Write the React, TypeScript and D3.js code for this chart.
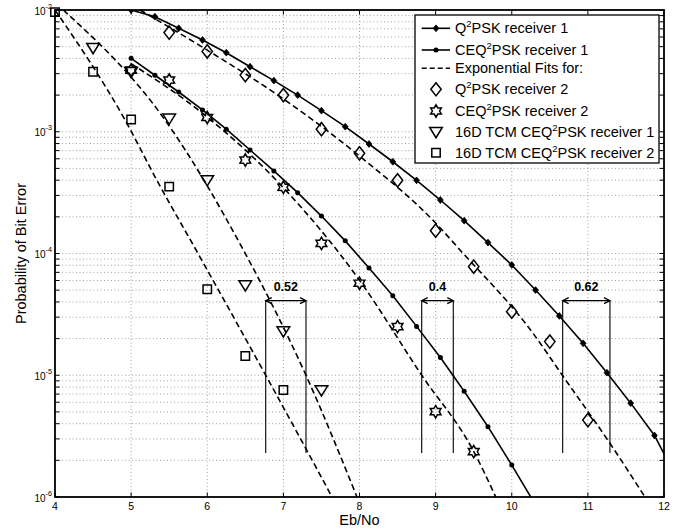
import React from "react";
import * as d3 from "d3";

// ---------------- DATA ----------------
// Q2PSK receiver 1 (solid line with small markers)
const EBNO_Q2PSK_R1 = [5.0, 5.3125, 5.625, 5.9375, 6.25, 6.5625, 6.875, 7.1875, 7.5, 7.8125, 8.125, 8.4375, 8.75, 9.0625, 9.375, 9.6875, 10.0, 10.3125, 10.625, 10.9375, 11.25, 11.5625, 11.875, 12.1875];
const BER_Q2PSK_R1 = [1.0e-2, 8.81e-3, 7.08e-3, 5.67e-3, 4.46e-3, 3.42e-3, 2.63e-3, 2.0e-3, 1.49e-3, 1.1e-3, 7.93e-4, 5.67e-4, 3.99e-4, 2.75e-4, 1.86e-4, 1.23e-4, 8.05e-5, 5.01e-5, 3.07e-5, 1.83e-5, 1.05e-5, 5.9e-6, 3.2e-6, 1.35e-6];

// CEQ2PSK receiver 1 (solid line with dots)
const EBNO_CEQ2PSK_R1 = [5.0, 5.3125, 5.625, 5.9375, 6.25, 6.5625, 6.875, 7.1875, 7.5, 7.8125, 8.125, 8.4375, 8.75, 9.0625, 9.375, 9.6875, 10.0, 10.3125];
const BER_CEQ2PSK_R1 = [4.01e-3, 2.91e-3, 2.12e-3, 1.51e-3, 1.05e-3, 7.08e-4, 4.77e-4, 3.16e-4, 2.03e-4, 1.27e-4, 7.6e-5, 4.5e-5, 2.52e-5, 1.4e-5, 7.38e-6, 3.78e-6, 1.83e-6, 8.6e-7];

// Q2PSK receiver 2 (diamonds)
const EBNO_Q2PSK_R2 = [5.5, 6.0, 6.5, 7.0, 7.5, 8.0, 8.5, 9.0, 9.5, 10.0, 10.5, 11.0];
const BER_Q2PSK_R2 = [6.52e-3, 4.57e-3, 2.92e-3, 2.0e-3, 1.05e-3, 6.65e-4, 3.99e-4, 1.54e-4, 7.8e-5, 3.33e-5, 1.89e-5, 4.28e-6];

// CEQ2PSK receiver 2 (hexagrams)
const EBNO_CEQ2PSK_R2 = [5.0, 5.5, 6.0, 6.5, 7.0, 7.5, 8.0, 8.5, 9.0, 9.5];
const BER_CEQ2PSK_R2 = [3.21e-3, 2.66e-3, 1.31e-3, 5.86e-4, 3.5e-4, 1.21e-4, 5.7e-5, 2.51e-5, 5.02e-6, 2.36e-6];

// 16D TCM CEQ2PSK receiver 1 (down triangles)
const EBNO_TCM_R1 = [4.5, 5.0, 5.5, 6.0, 6.5, 7.0, 7.5];
const BER_TCM_R1 = [4.9e-3, 3.11e-3, 1.29e-3, 4.02e-4, 5.51e-5, 2.31e-5, 7.57e-6];

// 16D TCM CEQ2PSK receiver 2 (squares)
const EBNO_TCM_R2 = [4.0, 4.5, 5.0, 5.5, 6.0, 6.5, 7.0];
const BER_TCM_R2 = [9.6e-3, 3.11e-3, 1.26e-3, 3.54e-4, 5.08e-5, 1.44e-5, 7.57e-6];

// Exponential fits (dashed)
const FIT_Q2PSK_R2_X = [5.117, 6.0, 7.0, 8.0, 9.0, 9.32, 10.28, 10.669, 11.29, 11.75];
const FIT_Q2PSK_R2_Y = [1.0e-2, 4.68e-3, 1.86e-3, 6.31e-4, 1.78e-4, 1.07e-4, 2.21e-5, 9.9e-6, 2.76e-6, 1.0e-6];
const FIT_CEQ2PSK_R2_X = [5.0, 6.0, 7.0, 8.0, 8.817, 9.495, 9.79];
const FIT_CEQ2PSK_R2_Y = [3.63e-3, 1.32e-3, 3.47e-4, 6.03e-5, 1.0e-5, 2.4e-6, 1.0e-6];
const FIT_TCM_R1_X = [4.109, 5.445, 6.474, 7.297, 7.967];
const FIT_TCM_R1_Y = [1.0e-2, 1.25e-3, 1.07e-4, 1.0e-5, 1.0e-6];
const FIT_TCM_R2_X = [4.0, 4.92, 5.336, 5.905, 6.768, 7.306, 7.639];
const FIT_TCM_R2_Y = [1.0e-2, 1.25e-3, 4.02e-4, 9.35e-5, 1.0e-5, 2.43e-6, 1.0e-6];

// Gap annotations
const GAP_LEFT = [6.768, 8.817, 10.669];
const GAP_RIGHT = [7.297, 9.232, 11.29];
const GAP_LABELS = ["0.52", "0.4", "0.62"];
const GAP_ARROW_BER = 4.1e-5;
const GAP_BOTTOM_BER = 2.3e-6;

// Axes
const X_TICKS = [4, 5, 6, 7, 8, 9, 10, 11, 12];
const Y_DECADES = [-6, -5, -4, -3, -2];
const X_LABEL = "Eb/No";
const Y_LABEL = "Probability of Bit Error";

// Legend
const LEGEND_LABELS: string[][] = [
  ["Q", "2", "PSK receiver 1"],
  ["CEQ", "2", "PSK receiver 1"],
  ["Exponential Fits for:"],
  ["Q", "2", "PSK receiver 2"],
  ["CEQ", "2", "PSK receiver 2"],
  ["16D TCM CEQ", "2", "PSK receiver 1"],
  ["16D TCM CEQ", "2", "PSK receiver 2"],
];
const LEGEND_SYMBOLS = ["lineDiamond", "lineDot", "dashed", "diamond", "hexagram", "triangle", "square"];

// ---------------- LAYOUT ----------------
const W = 674;
const H = 531;
const L = 55, R = 664, T = 10, B = 497;
const FONT = '"Liberation Sans", Arial, Helvetica, sans-serif';
const LEG = { x0: 415, y0: 15, x1: 659, y1: 163, rows: [28.3, 50, 68.3, 89.3, 111, 131.7, 152.7] };
const DASH = "6,3.5";

function diamondPath(cx: number, cy: number, hw: number, hh: number) {
  return `M${cx},${cy - hh}L${cx + hw},${cy}L${cx},${cy + hh}L${cx - hw},${cy}Z`;
}
function trianglePath(cx: number, cy: number) {
  return `M${cx - 6.3},${cy - 4.2}L${cx + 6.3},${cy - 4.2}L${cx},${cy + 6}Z`;
}
function hexagramPath(cx: number, cy: number) {
  const Ro = 6.2, Ri = 3.6;
  const pts: string[] = [];
  for (let i = 0; i < 12; i++) {
    const a = -Math.PI / 2 + (i * Math.PI) / 6;
    const r = i % 2 === 0 ? Ro : Ri;
    pts.push(`${cx + r * Math.cos(a)},${cy + r * Math.sin(a)}`);
  }
  return "M" + pts.join("L") + "Z";
}
function squarePath(cx: number, cy: number) {
  const s = 4.2;
  return `M${cx - s},${cy - s}H${cx + s}V${cy + s}H${cx - s}Z`;
}

function Marker({ type, cx, cy }: { type: string; cx: number; cy: number }) {
  const common = { fill: "none", stroke: "#000", strokeWidth: 1.5 };
  if (type === "diamond") return <path d={diamondPath(cx, cy, 5.2, 6.6)} {...common} />;
  if (type === "hexagram") return <path d={hexagramPath(cx, cy)} {...common} />;
  if (type === "triangle") return <path d={trianglePath(cx, cy)} {...common} />;
  if (type === "square") return <path d={squarePath(cx, cy)} {...common} />;
  if (type === "smallDiamond") return <path d={diamondPath(cx, cy, 2.9, 3.4)} fill="#000" stroke="#000" strokeWidth={0.8} />;
  if (type === "dot") return <circle cx={cx} cy={cy} r={2.5} fill="#000" />;
  return null;
}

function zip(xs: number[], ys: number[]): [number, number][] {
  return xs.map((v, i) => [v, ys[i]]);
}

export default function App() {
  const x = d3.scaleLinear().domain([4, 12]).range([L, R]);
  const y = d3.scaleLog().domain([1e-6, 1e-2]).range([B, T]);

  const straight = d3.line<[number, number]>().x((d) => x(d[0])).y((d) => y(d[1]));
  const smooth = d3
    .line<[number, number]>()
    .x((d) => x(d[0]))
    .y((d) => y(d[1]))
    .curve(d3.curveMonotoneX);

  const yMinor: number[] = [];
  Y_DECADES.slice(0, -1).forEach((k) => {
    for (let m = 2; m <= 9; m++) yMinor.push(m * Math.pow(10, k));
  });
  const yMajor = Y_DECADES.map((k) => Math.pow(10, k));

  const solidSeries = [
    { data: zip(EBNO_Q2PSK_R1, BER_Q2PSK_R1), marker: "smallDiamond" },
    { data: zip(EBNO_CEQ2PSK_R1, BER_CEQ2PSK_R1), marker: "dot" },
  ];
  const fitSeries = [
    zip(FIT_Q2PSK_R2_X, FIT_Q2PSK_R2_Y),
    zip(FIT_CEQ2PSK_R2_X, FIT_CEQ2PSK_R2_Y),
    zip(FIT_TCM_R1_X, FIT_TCM_R1_Y),
    zip(FIT_TCM_R2_X, FIT_TCM_R2_Y),
  ];
  const scatterSeries = [
    { data: zip(EBNO_Q2PSK_R2, BER_Q2PSK_R2), marker: "diamond" },
    { data: zip(EBNO_CEQ2PSK_R2, BER_CEQ2PSK_R2), marker: "hexagram" },
    { data: zip(EBNO_TCM_R1, BER_TCM_R1), marker: "triangle" },
    { data: zip(EBNO_TCM_R2, BER_TCM_R2), marker: "square" },
  ];

  const gridStyle = { stroke: "#8a8a8a", strokeWidth: 0.8, strokeDasharray: "1,2.5" };
  const tickLen = 4.5;

  return (
    <svg
      width={W}
      height={H}
      viewBox={`0 0 ${W} ${H}`}
      style={{ position: "absolute", left: 0, top: 0, display: "block", background: "#fff" }}
      fontFamily={FONT}
    >
      <rect x={0} y={0} width={W} height={H} fill="#fff" />
      <defs>
        <clipPath id="plotClip">
          <rect x={L} y={T} width={R - L} height={B - T} />
        </clipPath>
      </defs>

      {/* grid */}
      <g>
        {X_TICKS.slice(1, -1).map((t) => (
          <line key={"gx" + t} x1={x(t)} x2={x(t)} y1={T} y2={B} {...gridStyle} />
        ))}
        {[...yMajor.slice(1, -1), ...yMinor].map((t, i) => (
          <line key={"gy" + i} x1={L} x2={R} y1={y(t)} y2={y(t)} {...gridStyle} />
        ))}
      </g>

      {/* curves */}
      <g clipPath="url(#plotClip)">
        {fitSeries.map((d, i) => (
          <path key={"fit" + i} d={smooth(d) || ""} fill="none" stroke="#000" strokeWidth={1.6} strokeDasharray={DASH} />
        ))}
        {solidSeries.map((s, i) => (
          <path key={"sol" + i} d={straight(s.data) || ""} fill="none" stroke="#000" strokeWidth={1.6} />
        ))}
        {solidSeries.map((s, i) =>
          s.data.map((d, j) => <Marker key={`sm${i}-${j}`} type={s.marker} cx={x(d[0])} cy={y(d[1])} />)
        )}
      </g>

      {/* gap annotations */}
      <g stroke="#000" fill="none">
        {GAP_LEFT.map((xl, i) => {
          const xr = GAP_RIGHT[i];
          const px1 = x(xl), px2 = x(xr), ay = y(GAP_ARROW_BER), by = y(GAP_BOTTOM_BER);
          return (
            <g key={"gap" + i}>
              <line x1={px1} x2={px1} y1={ay} y2={by} strokeWidth={1.1} />
              <line x1={px2} x2={px2} y1={ay} y2={by} strokeWidth={1.1} />
              <line x1={px1} x2={px2} y1={ay} y2={ay} strokeWidth={1.3} />
              <path d={`M${px1 + 6},${ay - 3}L${px1},${ay}L${px1 + 6},${ay + 3}`} strokeWidth={1.3} />
              <path d={`M${px2 - 6},${ay - 3}L${px2},${ay}L${px2 - 6},${ay + 3}`} strokeWidth={1.3} />
              <text
                x={(px1 + px2) / 2}
                y={ay - 10}
                textAnchor="middle"
                fontSize={12.5}
                fontWeight="bold"
                fill="#000"
                stroke="none"
              >
                {GAP_LABELS[i]}
              </text>
            </g>
          );
        })}
      </g>

      {/* markers */}
      <g>
        {scatterSeries.map((s, i) =>
          s.data.map((d, j) => <Marker key={`m${i}-${j}`} type={s.marker} cx={x(d[0])} cy={y(d[1])} />)
        )}
      </g>

      {/* axes box and ticks */}
      <g stroke="#000">
        <rect x={L} y={T} width={R - L} height={B - T} fill="none" strokeWidth={1.8} />
        {X_TICKS.map((t) => (
          <g key={"xt" + t}>
            <line x1={x(t)} x2={x(t)} y1={B} y2={B - tickLen} strokeWidth={1} />
            <line x1={x(t)} x2={x(t)} y1={T} y2={T + tickLen} strokeWidth={1} />
          </g>
        ))}
        {[...yMajor, ...yMinor].map((t, i) => (
          <g key={"yt" + i}>
            <line x1={L} x2={L + tickLen} y1={y(t)} y2={y(t)} strokeWidth={1} />
            <line x1={R} x2={R - tickLen} y1={y(t)} y2={y(t)} strokeWidth={1} />
          </g>
        ))}
      </g>

      {/* tick labels */}
      <g fill="#000">
        {X_TICKS.map((t) => (
          <text key={"xl" + t} x={x(t)} y={B + 13} textAnchor="middle" fontSize={10.5}>
            {t}
          </text>
        ))}
        {Y_DECADES.map((k) => (
          <text key={"yl" + k} x={L - 3} y={y(Math.pow(10, k)) + 4.5} textAnchor="end" fontSize={10}>
            10
            <tspan fontSize={7.2} dy={-6}>
              {String(k)}
            </tspan>
          </text>
        ))}
      </g>

      {/* axis labels */}
      <text x={(L + R) / 2} y={525} textAnchor="middle" fontSize={14.5} fill="#000">
        {X_LABEL}
      </text>
      <text
        transform={`translate(26,${(T + B) / 2}) rotate(-90)`}
        textAnchor="middle"
        fontSize={14.5}
        fill="#000"
      >
        {Y_LABEL}
      </text>

      {/* legend */}
      <g>
        <rect x={LEG.x0} y={LEG.y0} width={LEG.x1 - LEG.x0} height={LEG.y1 - LEG.y0} fill="#fff" stroke="#000" strokeWidth={1.3} />
        {LEGEND_LABELS.map((parts, i) => {
          const cy = LEG.rows[i];
          const sym = LEGEND_SYMBOLS[i];
          const lx1 = 421.7, lx2 = 450, mx = 436;
          let symbol: React.ReactNode = null;
          if (sym === "lineDiamond" || sym === "lineDot") {
            symbol = (
              <g>
                <line x1={lx1} x2={lx2} y1={cy} y2={cy} stroke="#000" strokeWidth={1.6} />
                <Marker type={sym === "lineDiamond" ? "smallDiamond" : "dot"} cx={mx} cy={cy} />
              </g>
            );
          } else if (sym === "dashed") {
            symbol = <line x1={lx1} x2={lx2} y1={cy} y2={cy} stroke="#000" strokeWidth={1.6} strokeDasharray="5,3" />;
          } else {
            symbol = <Marker type={sym} cx={mx} cy={cy} />;
          }
          return (
            <g key={"leg" + i}>
              {symbol}
              <text x={455} y={cy + 5} fontSize={14.5} fill="#000">
                {parts[0]}
                {parts.length > 1 && (
                  <>
                    <tspan fontSize={9.5} dy={-6}>
                      {parts[1]}
                    </tspan>
                    <tspan dy={6}>{parts[2]}</tspan>
                  </>
                )}
              </text>
            </g>
          );
        })}
      </g>
    </svg>
  );
}
